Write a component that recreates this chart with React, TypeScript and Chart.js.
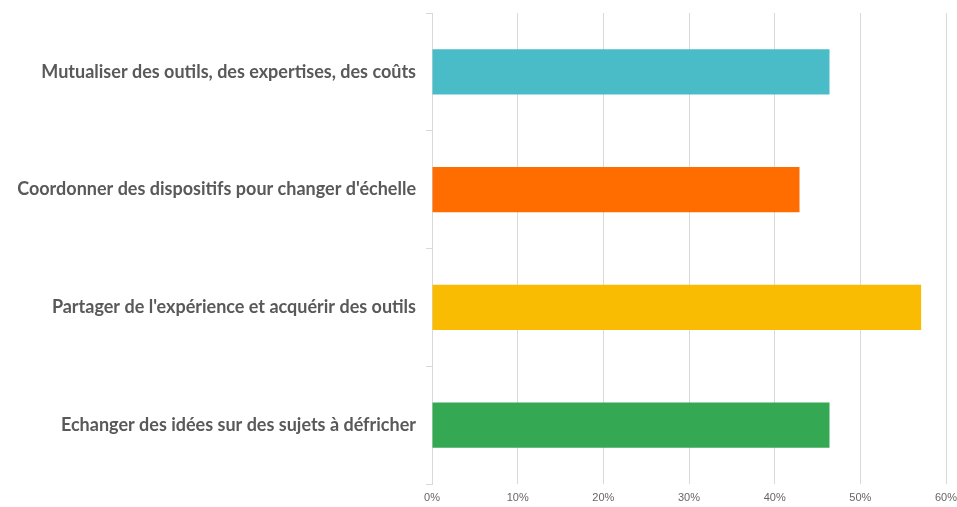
import React, { useEffect, useRef } from "react";
import { Chart, registerables } from "chart.js";

Chart.register(...registerables);

const categories = [
  "Mutualiser des outils, des expertises, des coûts",
  "Coordonner des dispositifs pour changer d'échelle",
  "Partager de l'expérience et acquérir des outils",
  "Echanger des idées sur des sujets à défricher",
];
const values = [46.4, 42.9, 57.1, 46.4];
const barColors = ["#4ABCC8", "#FF6D01", "#FABC03", "#34A853"];
const xTicks = [0, 10, 20, 30, 40, 50, 60];

export default function App() {
  const ref = useRef<HTMLCanvasElement>(null);
  useEffect(() => {
    document.body.style.margin = "0";
    const chart = new Chart(ref.current!, {
      type: "bar",
      data: {
        labels: categories,
        datasets: [
          {
            data: values,
            backgroundColor: barColors,
            borderWidth: 0,
            barPercentage: 0.385,
            categoryPercentage: 1,
          },
        ],
      },
      options: {
        indexAxis: "y",
        animation: false,
        responsive: false,
        maintainAspectRatio: false,
        layout: { padding: { top: 13, right: 11, bottom: 0, left: 0 } },
        plugins: { legend: { display: false }, tooltip: { enabled: false } },
        scales: {
          x: {
            min: xTicks[0],
            max: xTicks[xTicks.length - 1],
            afterBuildTicks: (s: any) => {
              s.ticks = xTicks.map((v) => ({ value: v }));
            },
            afterFit: (s: any) => {
              s.height = 23;
              s.paddingLeft = 0;
              s.paddingRight = 0;
            },
            grid: { color: "#d9d9d9", drawTicks: false, lineWidth: 1 },
            border: { display: false },
            ticks: {
              padding: 7,
              color: "#666666",
              font: { family: "Liberation Sans", size: 11 },
              callback: (v: any) => v + "%",
            },
          },
          y: {
            afterFit: (s: any) => {
              s.width = 432;
              s.paddingTop = 0;
              s.paddingBottom = 0;
            },
            grid: {
              drawOnChartArea: false,
              drawTicks: true,
              tickLength: 6,
              color: "#d9d9d9",
              offset: true,
            },
            border: { display: true, color: "#d9d9d9" },
            ticks: {
              padding: 10,
              color: "#595959",
              font: { family: "Lato", size: 18, weight: "bold" },
            },
          },
        },
      },
    });
    return () => chart.destroy();
  }, []);
  return (
    <div style={{ width: 957, height: 507 }}>
      <canvas ref={ref} width={957} height={507} />
    </div>
  );
}
